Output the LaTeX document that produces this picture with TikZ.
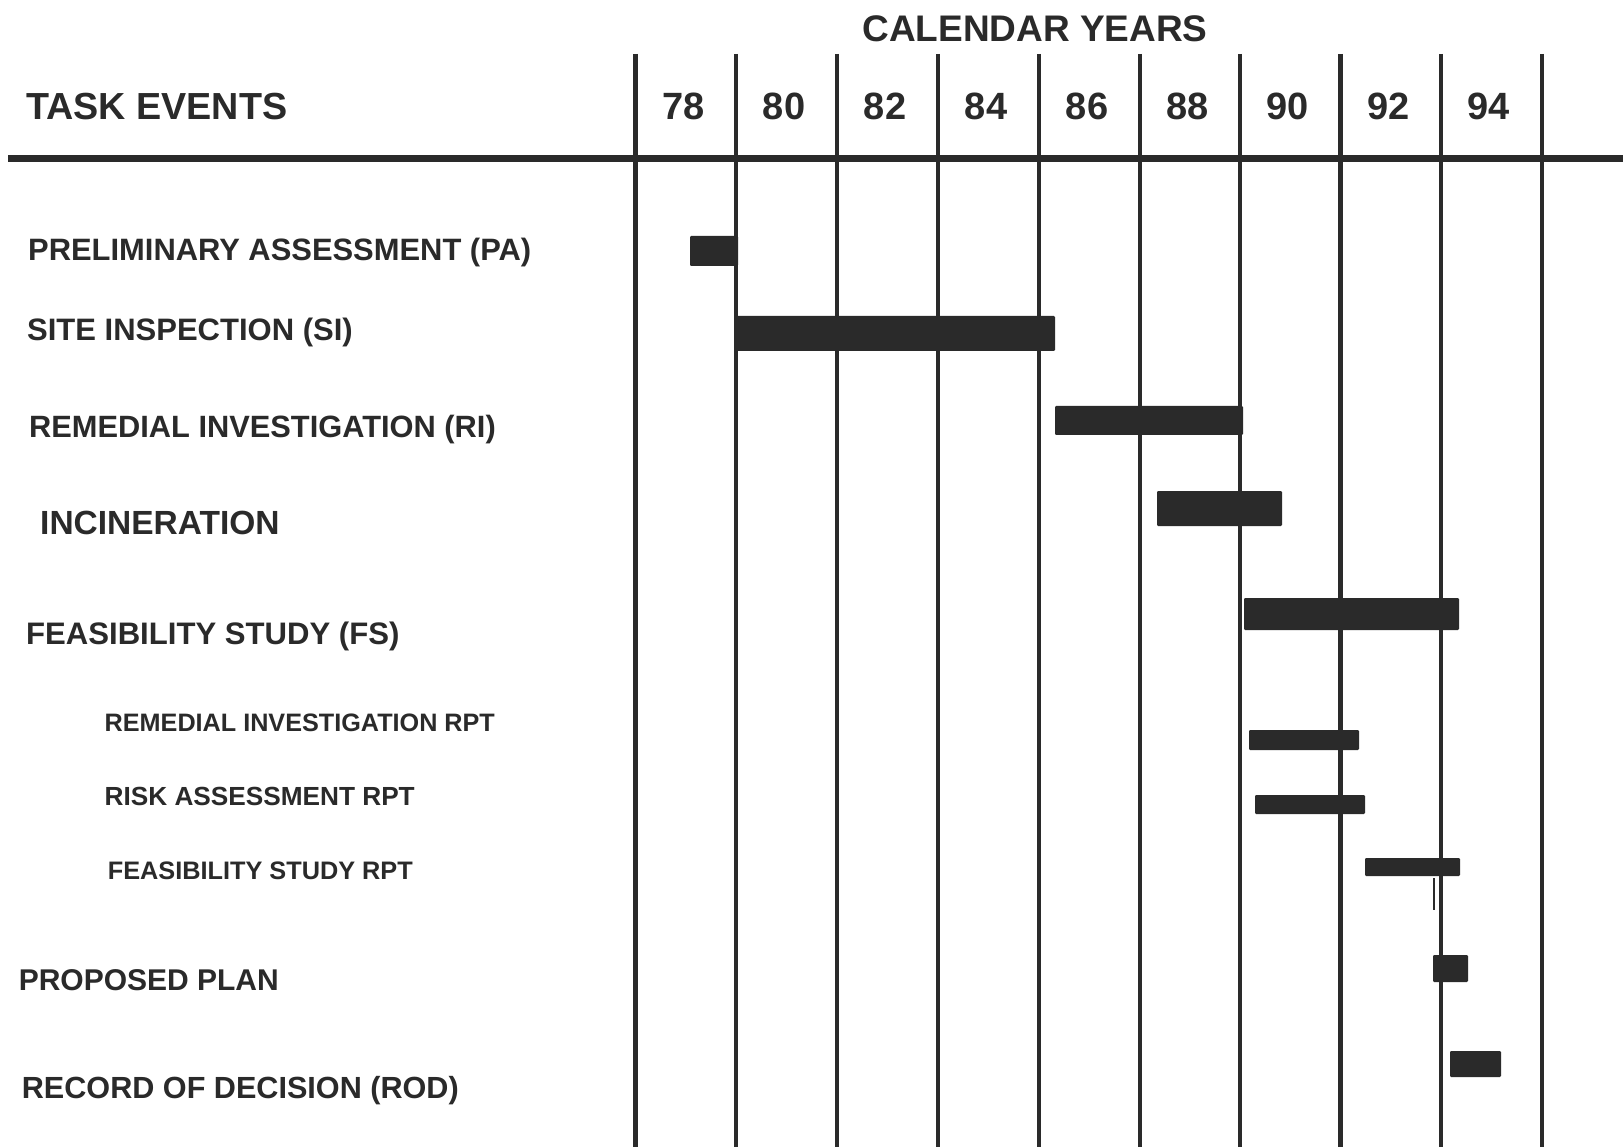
\documentclass[tikz,border=0pt]{standalone}
\usepackage{fontspec}
\setmainfont{Liberation Sans}
\definecolor{ink}{HTML}{2A2A2A}
\newcommand{\fsz}[1]{\fontsize{#1pt}{#1pt}\selectfont\bfseries}
\begin{document}
\begin{tikzpicture}[x=1pt,y=-1pt,
  lbl/.style={anchor=base west,inner sep=0pt,text=ink},
  yr/.style={anchor=base,inner sep=0pt,text=ink,font=\fsz{38}},
  grid/.style={draw=ink,line width=4.5pt},
  barfill/.style={fill=ink,rounded corners=1.2pt}]
\useasboundingbox[fill=white] (0,0) rectangle (1623,1147);

% header
\node[anchor=base,inner sep=0pt,text=ink,font=\fsz{37}] (cal) at (1035,41.2) {CALENDAR YEARS};
\node[lbl,font=\fsz{37.7}] (task) at (26,119.1) {TASK EVENTS};

% horizontal rule
\coordinate (hl) at (8,158.5);
\coordinate (hr) at (1623,158.5);
\draw[draw=ink,line width=7pt] (hl) -- (hr);

% vertical grid lines
\foreach \i/\x in {0/635.5,1/736,2/837,3/938,4/1039,5/1140,6/1240,7/1340.5,8/1441,9/1542}{
  \coordinate (vt\i) at (\x,54);
  \coordinate (vb\i) at (\x,1147);
  \draw[grid] (vt\i) -- (vb\i);
}

% year labels
\foreach \y/\x in {78/683.3,80/784,82/885,84/986,86/1087,88/1187.5,90/1287.8,92/1388.3,94/1488.5}{
  \node[yr] (y\y) at (\x,119.2) {\y};
}

% task labels
\node[lbl,font=\fsz{30.9}] (pa) at (28,260.6) {PRELIMINARY ASSESSMENT (PA)};
\node[lbl,font=\fsz{31}] (si) at (27,340.1) {SITE INSPECTION (SI)};
\node[lbl,font=\fsz{30.8}] (ri) at (29,437.5) {REMEDIAL INVESTIGATION (RI)};
\node[lbl,font=\fsz{33.5}] (inc) at (40,534.7) {INCINERATION};
\node[lbl,font=\fsz{31.1}] (fs) at (26,644.6) {FEASIBILITY STUDY (FS)};
\node[lbl,font=\fsz{25.2}] (rirpt) at (104.5,731.5) {REMEDIAL INVESTIGATION RPT};
\node[lbl,font=\fsz{26.2}] (rarpt) at (104.5,805.4) {RISK ASSESSMENT RPT};
\node[lbl,font=\fsz{25.3}] (fsrpt) at (107.6,879.6) {FEASIBILITY STUDY RPT};
\node[lbl,font=\fsz{30}] (pp) at (18.6,990.7) {PROPOSED PLAN};
\node[lbl,font=\fsz{30.6}] (rod) at (21.7,1098) {RECORD OF DECISION (ROD)};

% bars
\fill[barfill] (690,236) rectangle (738,266);
\fill[barfill] (736,316) rectangle (1055,351);
\fill[barfill] (1055,406) rectangle (1243,435);
\fill[barfill] (1157,491) rectangle (1282,526);
\fill[barfill] (1244,598) rectangle (1459,630);
\fill[barfill] (1249,730) rectangle (1359,750);
\fill[barfill] (1255,795) rectangle (1365,814);
\fill[barfill] (1365,858) rectangle (1460,876);
\coordinate (tk1) at (1434,878);
\coordinate (tk2) at (1434,910);
\draw[draw=ink,line width=1.5pt] (tk1) -- (tk2);
\fill[barfill] (1433,955) rectangle (1468,982);
\fill[barfill] (1450,1051) rectangle (1501,1077);
\end{tikzpicture}
\end{document}
